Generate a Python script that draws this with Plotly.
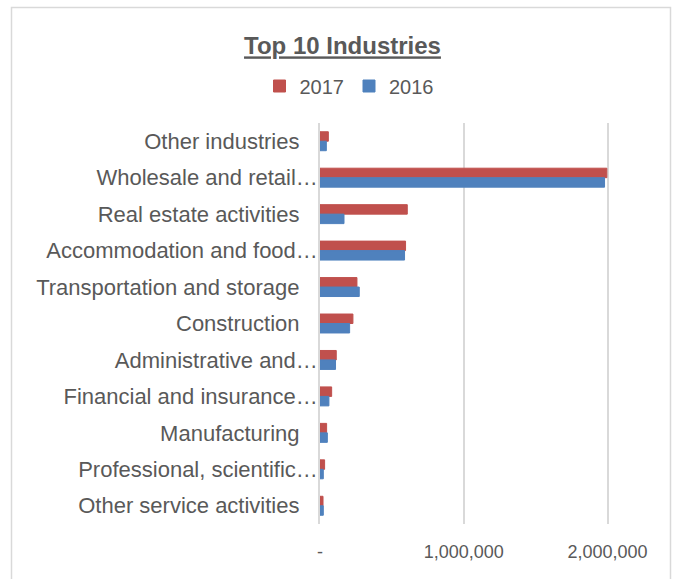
import plotly.graph_objects as go

categories = [
    "Other industries",
    "Wholesale and retail…",
    "Real estate activities",
    "Accommodation and food…",
    "Transportation and storage",
    "Construction",
    "Administrative and…",
    "Financial and insurance…",
    "Manufacturing",
    "Professional, scientific…",
    "Other service activities",
]
values_2017 = [58000, 1995000, 607000, 595000, 257000, 229000, 113000, 81000, 46000, 32000, 21000]
values_2016 = [44000, 1979000, 167000, 588000, 273000, 206000, 108000, 62000, 51000, 23000, 23000]
tick_vals = [0, 1000000, 2000000]
tick_text = ["-", "1,000,000", "2,000,000"]

FONT = "Liberation Sans, Arial, sans-serif"
GREY = "#595959"
RED = "#C0504D"
BLUE = "#4F81BD"

W, H = 673, 579
L, T, B = 320, 123, 579 - 524
pw = 289
R = W - L - pw
ph = H - T - B

# labels without an ellipsis sit further from the axis in the reference
y_ticktext = [c if c.endswith("…") else c + "\u00a0\u00a0\u00a0" for c in categories]

fig = go.Figure()
fig.add_trace(go.Bar(y=categories, x=values_2017, name="2017", orientation="h",
                     marker=dict(color=RED, line=dict(width=1, color=RED))))
fig.add_trace(go.Bar(y=categories, x=values_2016, name="2016", orientation="h",
                     marker=dict(color=BLUE, line=dict(width=1, color=BLUE))))

def px_to_paper_x(px):
    return (px - L) / pw

def px_to_paper_y(py):
    return (H - B - py) / ph

fig.update_layout(
    width=W, height=H,
    margin=dict(l=L, r=R, t=T, b=B, autoexpand=False),
    paper_bgcolor="white", plot_bgcolor="white",
    font=dict(family=FONT, color=GREY, size=20),
    barmode="group", bargap=0.48, bargroupgap=0,
    title=dict(text="<b><u>Top 10 Industries</u></b>", x=342.5 / W, xanchor="center",
               y=1 - 46 / H, yanchor="middle", yref="container",
               font=dict(family=FONT, size=24, color=GREY)),
    legend=dict(orientation="h", x=px_to_paper_x(349), xanchor="center",
                y=px_to_paper_y(86), yanchor="middle",
                font=dict(family=FONT, size=20, color=GREY),
                itemwidth=30, traceorder="normal", bgcolor="rgba(0,0,0,0)"),
    xaxis=dict(range=[0, 2010000], tickvals=tick_vals, ticktext=tick_text,
               showgrid=True, gridcolor="#d9d9d9", gridwidth=1.5,
               zeroline=False, showline=False,
               ticks="outside", ticklen=11, tickcolor="rgba(0,0,0,0)",
               tickfont=dict(family=FONT, size=18, color=GREY), fixedrange=True),
    yaxis=dict(autorange="reversed", showgrid=False, zeroline=False,
               showline=True, linecolor="#d9d9d9", linewidth=1.5,
               tickmode="array", tickvals=categories, ticktext=y_ticktext,
               ticks="", ticklabelstandoff=-4,
               tickfont=dict(family=FONT, size=22, color=GREY)),
    shapes=[dict(type="rect", xref="paper", yref="paper",
                 x0=px_to_paper_x(11.5), x1=px_to_paper_x(670.5),
                 y0=px_to_paper_y(640), y1=px_to_paper_y(7.5),
                 line=dict(color="#d9d9d9", width=1.5), fillcolor="rgba(0,0,0,0)",
                 layer="below")],
)

fig.write_html("out.html", config={"displayModeBar": False},
               post_script="document.body.style.margin='0';document.body.style.overflow='hidden';")
